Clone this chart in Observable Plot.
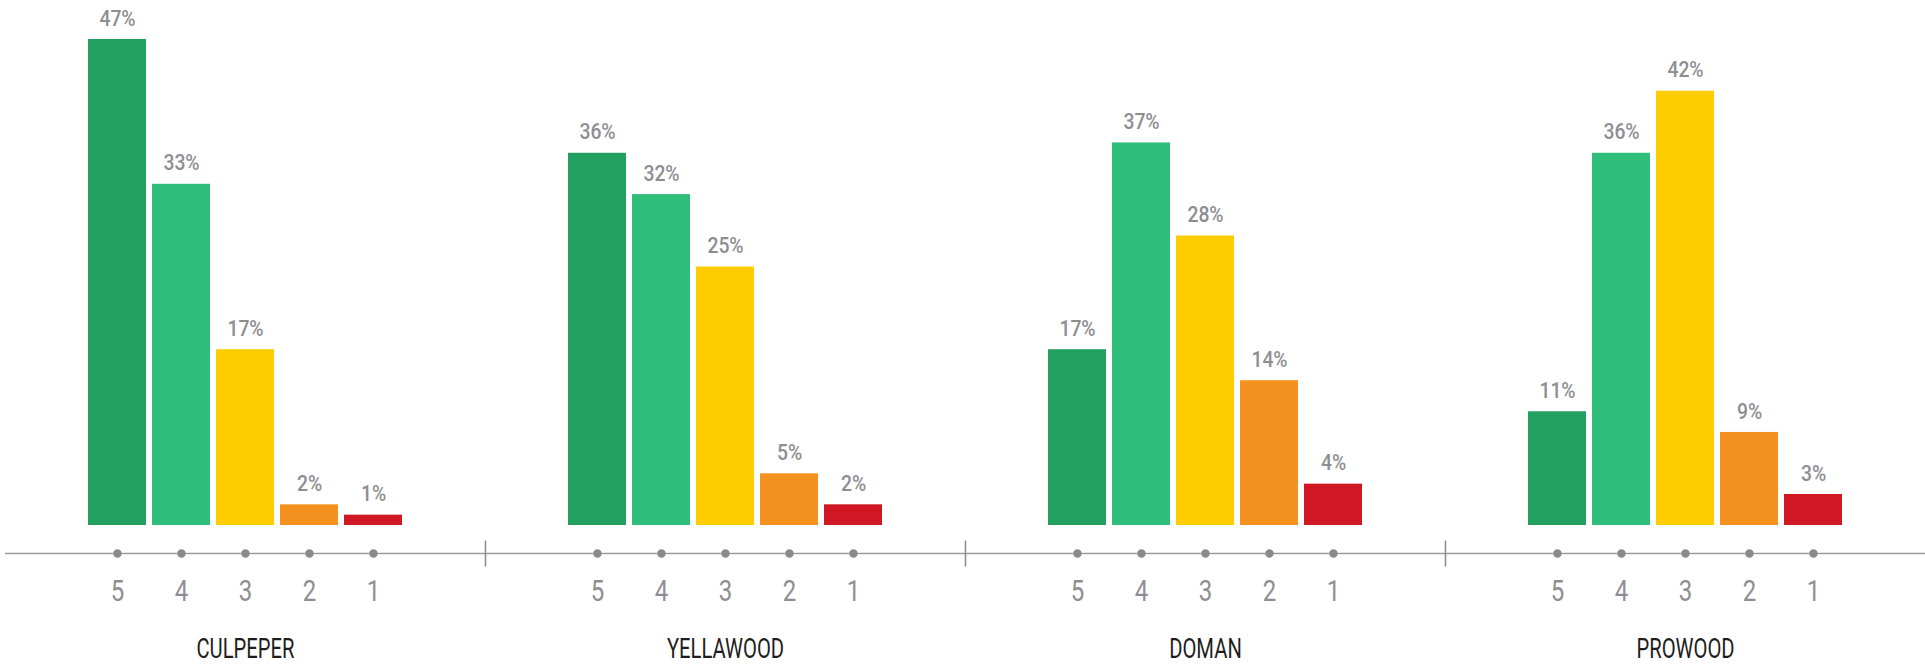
<!DOCTYPE html>
<html>
<head>
<meta charset="utf-8">
<script src="https://cdn.jsdelivr.net/npm/d3@7"></script>
<script src="https://cdn.jsdelivr.net/npm/@observablehq/plot@0.6"></script>
<style>
  html, body { margin: 0; padding: 0; background: #fff; overflow: hidden; }
</style>
</head>
<body>
<div id="chart"></div>
<script>
const groups = ["CULPEPER", "YELLAWOOD", "DOMAN", "PROWOOD"];
const ratings = ["5", "4", "3", "2", "1"];
const culpeper = [47, 33, 17, 2, 1];
const yellawood = [36, 32, 25, 5, 2];
const doman = [17, 37, 28, 14, 4];
const prowood = [11, 36, 42, 9, 3];
const ratingColors = ["#21a060", "#2ebe7a", "#fecd00", "#f4911f", "#cf1823"];

const seriesByGroup = [culpeper, yellawood, doman, prowood];
const data = groups.flatMap((g, gi) =>
  ratings.map((r, ri) => ({group: g, rating: r, value: seriesByGroup[gi][ri]}))
);

const grey = "#8d8e92";
const vline = {
  draw(context, size) {
    const h = Math.sqrt(size / Math.PI);
    context.moveTo(0, -h);
    context.lineTo(0, h);
  }
};

const chart = Plot.plot({
  width: 1925,
  height: 666,
  marginLeft: 5,
  marginRight: 0,
  marginTop: 8,
  marginBottom: 141,
  style: {fontFamily: "Roboto", background: "#fff"},
  fx: {domain: groups, padding: 0, axis: null},
  x: {domain: ratings, paddingInner: 0.093, paddingOuter: 1.256, axis: null},
  y: {domain: [0, 50], axis: null},
  color: {domain: ratings, range: ratingColors},
  marks: [
    Plot.barY(data, {fx: "group", x: "rating", y: "value", fill: "rating"}),
    Plot.text(data, {fx: "group", x: "rating", y: "value", text: d => d.value + "%",
      dy: -21, fill: grey, fontSize: 22.5, fontWeight: 500}),
    Plot.ruleY([0], {dy: 28, stroke: "#9a9a9a", strokeWidth: 1.5}),
    Plot.dot(data, {fx: "group", x: "rating", frameAnchor: "bottom", dy: 28, r: 4.2, fill: "#8a8a8e", stroke: "none"}),
    Plot.dot(groups.slice(1), {fx: d => d, frameAnchor: "bottom-left", dy: 28, symbol: vline, r: 13,
      stroke: "#8a8a8e", strokeWidth: 1.5, fill: "none"}),
    Plot.text(data, {fx: "group", x: "rating", text: "rating", frameAnchor: "bottom", lineAnchor: "middle",
      dy: 66, fill: grey, fontSize: 30}),
    Plot.text(groups, {fx: d => d, text: d => d, frameAnchor: "bottom", lineAnchor: "middle",
      dy: 123, fill: "#1e1e1e", fontSize: 28.5})
  ]
});

// condensed look for the labels
const squeeze = {"22.5": 0.86, "30": 0.8, "28.5": 0.71};
chart.querySelectorAll("g[font-size]").forEach(g => {
  const s = squeeze[g.getAttribute("font-size")];
  if (!s) return;
  g.querySelectorAll("text").forEach(t => {
    const tr = t.getAttribute("transform");
    if (tr) {
      t.setAttribute("transform", tr + ` scale(${s},1)`);
    } else {
      const x = +t.getAttribute("x") || 0;
      t.setAttribute("transform", `translate(${x},0) scale(${s},1) translate(${-x},0)`);
    }
  });
});

document.getElementById("chart").appendChild(chart);
</script>
</body>
</html>
